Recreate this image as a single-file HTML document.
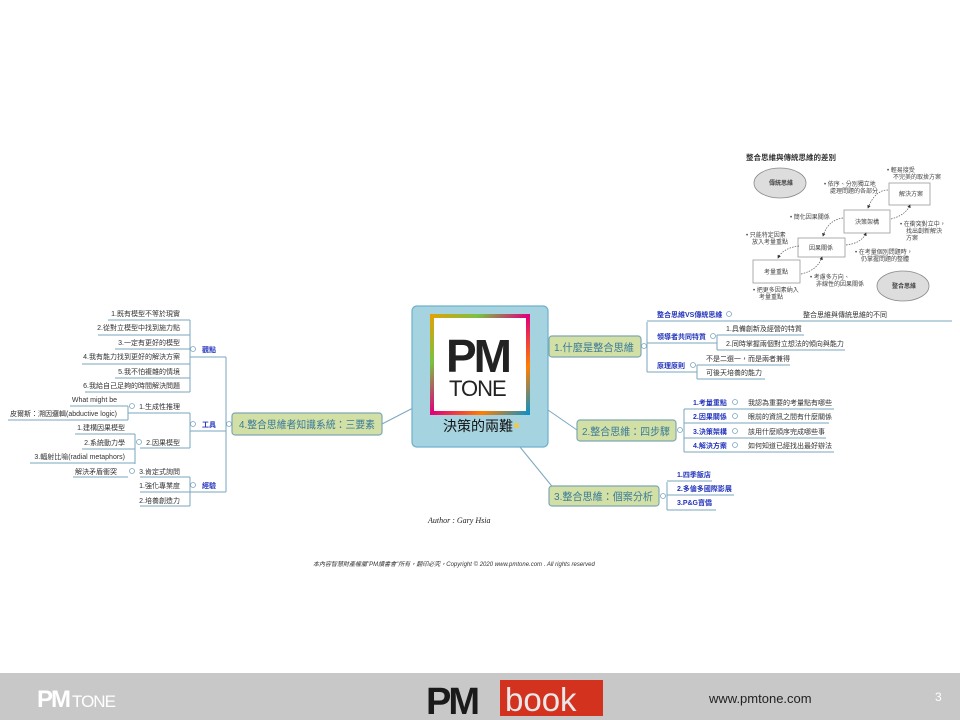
<!DOCTYPE html>
<html><head><meta charset="utf-8"><style>
html,body{margin:0;padding:0;background:#fff;width:960px;height:720px;overflow:hidden}
svg text{font-family:"Liberation Sans","Noto Sans CJK TC",sans-serif}
</style></head><body>
<svg width="960" height="720" viewBox="0 0 960 720" xmlns="http://www.w3.org/2000/svg">
<defs>
<linearGradient id="rb" x1="0" y1="0" x2="1" y2="1">
<stop offset="0" stop-color="#e8a000"/><stop offset="0.25" stop-color="#7ac143"/><stop offset="0.5" stop-color="#e0007a"/><stop offset="0.75" stop-color="#ff7f00"/><stop offset="1" stop-color="#0090d0"/>
</linearGradient>
<marker id="ah" markerWidth="5" markerHeight="5" refX="4" refY="2.5" orient="auto"><path d="M0,0 L5,2.5 L0,5z" fill="#333"/></marker>
</defs>

<g font-size="6" fill="#444">
<text x="746" y="160" font-size="7.5" font-weight="bold" fill="#333">整合思維與傳統思維的差別</text>
<ellipse cx="780" cy="183" rx="26" ry="15" fill="#ddd" stroke="#888" stroke-width="0.8"/>
<text x="769" y="185" font-weight="bold">傳統思維</text>
<ellipse cx="903" cy="286" rx="26" ry="15" fill="#ddd" stroke="#888" stroke-width="0.8"/>
<text x="892" y="288" font-weight="bold">整合思維</text>
<rect x="889" y="183" width="41" height="22" fill="#fff" stroke="#999" stroke-width="0.8"/><text x="899" y="196">解決方案</text>
<rect x="844" y="210" width="46" height="23" fill="#fff" stroke="#999" stroke-width="0.8"/><text x="855" y="224">決策架構</text>
<rect x="798" y="238" width="47" height="19" fill="#fff" stroke="#999" stroke-width="0.8"/><text x="809" y="250">因果關係</text>
<rect x="753" y="260" width="47" height="23" fill="#fff" stroke="#999" stroke-width="0.8"/><text x="764" y="274">考量重點</text>
<g fill="none" stroke="#555" stroke-width="0.7" stroke-dasharray="1.5,1.2">
<path d="M801,274 Q818,270 822,257" marker-end="url(#ah)"/>
<path d="M846,245 Q862,243 866,233" marker-end="url(#ah)"/>
<path d="M891,219 Q906,215 910,205" marker-end="url(#ah)"/>
<path d="M799,246 Q783,248 778,258" marker-end="url(#ah)"/>
<path d="M843,218 Q828,220 823,236" marker-end="url(#ah)"/>
<path d="M888,190 Q875,190 868,208" marker-end="url(#ah)"/>
</g>
<text x="887" y="172">• 輕易接受</text><text x="893" y="179">不完美的取捨方案</text>
<text x="824" y="186">• 依序、分別獨立地</text><text x="830" y="193">處理問題的各部分</text>
<text x="790" y="219">• 簡化因果關係</text>
<text x="746" y="237">• 只能特定因素</text><text x="752" y="244">放入考量重點</text>
<text x="900" y="226">• 在衝突對立中，</text><text x="906" y="233">找出創新解決</text><text x="906" y="240">方案</text>
<text x="855" y="254">• 在考量個別問題時，</text><text x="861" y="261">仍掌握問題的整體</text>
<text x="810" y="279">• 考慮多方向、</text><text x="816" y="286">非線性的因果關係</text>
<text x="753" y="292">• 把更多因素納入</text><text x="759" y="299">考量重點</text>
</g>

<g stroke="#7ba6bf" stroke-width="1" fill="none">
<line x1="413" y1="408" x2="382" y2="424"/>
<line x1="548" y1="410" x2="577" y2="430"/>
<line x1="520" y1="447" x2="555" y2="490"/>
<line x1="226" y1="357" x2="226" y2="492"/>
<line x1="190" y1="357" x2="226" y2="357"/>
<line x1="190" y1="431" x2="226" y2="431"/>
<line x1="190" y1="492" x2="226" y2="492"/>
<line x1="190" y1="320" x2="190" y2="392"/>
<line x1="190" y1="413" x2="190" y2="448"/>
<line x1="190" y1="477" x2="190" y2="506"/>
<line x1="108" y1="320" x2="190" y2="320"/>
<line x1="98" y1="335" x2="190" y2="335"/>
<line x1="115" y1="349" x2="190" y2="349"/>
<line x1="82" y1="364" x2="190" y2="364"/>
<line x1="115" y1="378" x2="190" y2="378"/>
<line x1="85" y1="392" x2="190" y2="392"/>
<line x1="128" y1="413" x2="190" y2="413"/>
<line x1="128" y1="406" x2="128" y2="420"/>
<line x1="70" y1="406" x2="128" y2="406"/>
<line x1="8" y1="420" x2="128" y2="420"/>
<line x1="140" y1="448" x2="190" y2="448"/>
<line x1="135" y1="434" x2="135" y2="464"/>
<line x1="75" y1="434" x2="135" y2="434"/>
<line x1="82" y1="449" x2="135" y2="449"/>
<line x1="30" y1="463" x2="135" y2="463"/>
<line x1="140" y1="477" x2="190" y2="477"/>
<line x1="73" y1="477" x2="128" y2="477"/>
<line x1="140" y1="492" x2="190" y2="492"/>
<line x1="140" y1="506" x2="190" y2="506"/>
<line x1="647" y1="322" x2="647" y2="372"/>
<line x1="647" y1="321" x2="952" y2="321"/>
<line x1="647" y1="343" x2="717" y2="343"/>
<line x1="647" y1="372" x2="697" y2="372"/>
<line x1="717" y1="335" x2="717" y2="350"/>
<line x1="717" y1="335" x2="804" y2="335"/>
<line x1="717" y1="350" x2="845" y2="350"/>
<line x1="697" y1="365" x2="697" y2="379"/>
<line x1="697" y1="365" x2="790" y2="365"/>
<line x1="697" y1="379" x2="765" y2="379"/>
<line x1="684" y1="409" x2="684" y2="452"/>
<line x1="684" y1="409" x2="834" y2="409"/>
<line x1="684" y1="423" x2="829" y2="423"/>
<line x1="684" y1="438" x2="826" y2="438"/>
<line x1="684" y1="452" x2="834" y2="452"/>
<line x1="667" y1="482" x2="667" y2="510"/>
<line x1="667" y1="481" x2="712" y2="481"/>
<line x1="667" y1="495" x2="734" y2="495"/>
<line x1="667" y1="510" x2="716" y2="510"/>
</g>
<g fill="#fff" stroke="#7ba6bf" stroke-width="0.8">
<circle cx="229" cy="424" r="2.5"/><circle cx="193" cy="349" r="2.5"/><circle cx="193" cy="424" r="2.5"/><circle cx="193" cy="485" r="2.5"/>
<circle cx="132" cy="406" r="2.5"/><circle cx="139" cy="442" r="2.5"/><circle cx="132" cy="471" r="2.5"/>
<circle cx="644" cy="346" r="2.5"/><circle cx="729" cy="314" r="2.5"/><circle cx="713" cy="336" r="2.5"/><circle cx="693" cy="365" r="2.5"/>
<circle cx="680" cy="430" r="2.5"/><circle cx="735" cy="402" r="2.5"/><circle cx="735" cy="416" r="2.5"/><circle cx="735" cy="431" r="2.5"/><circle cx="735" cy="445" r="2.5"/>
<circle cx="663" cy="496" r="2.5"/>
</g>

<g stroke="#7ea6b5" stroke-width="1.2" fill="#d2e0a6">
<rect x="232" y="413" width="150" height="22" rx="3"/>
<rect x="549" y="336" width="92" height="21" rx="3"/>
<rect x="577" y="420" width="99" height="21" rx="3"/>
<rect x="549" y="486" width="110" height="20" rx="3"/>
</g>
<g font-size="10.5" fill="#3a7a9a">
<text x="239" y="428" textLength="136" lengthAdjust="spacingAndGlyphs">4.整合思維者知識系統：三要素</text>
<text x="554" y="351" textLength="80" lengthAdjust="spacingAndGlyphs">1.什麼是整合思維</text>
<text x="582" y="435" textLength="88" lengthAdjust="spacingAndGlyphs">2.整合思維：四步驟</text>
<text x="554" y="500" textLength="99" lengthAdjust="spacingAndGlyphs">3.整合思維：個案分析</text>
</g>

<rect x="412" y="306" width="136" height="141" rx="5" fill="#a6d3e0" stroke="#6fb1cb" stroke-width="1.2"/>
<rect x="430" y="314" width="100" height="101" fill="url(#rb)"/>
<rect x="434" y="318" width="92" height="93" fill="#fff"/>
<text x="446" y="372" font-size="46" font-weight="bold" fill="#222" letter-spacing="-3">PM</text>
<text x="449" y="396" font-size="22" fill="#222" letter-spacing="-1">TONE</text>
<text x="443" y="431" font-size="14" fill="#111">決策的兩難</text>
<rect x="514" y="423" width="5" height="5" fill="#e8c860"/>

<g font-size="7" fill="#333" text-anchor="end">
<text x="180" y="316">1.既有模型不等於現實</text>
<text x="180" y="330">2.從對立模型中找到施力點</text>
<text x="180" y="345">3.一定有更好的模型</text>
<text x="180" y="359">4.我有能力找到更好的解決方案</text>
<text x="180" y="374">5.我不怕複雜的情境</text>
<text x="180" y="388">6.我給自己足夠的時間解決問題</text>
<text x="180" y="409">1.生成性推理</text>
<text x="117" y="402">What might be</text>
<text x="117" y="416">皮爾斯：溯因邏輯(abductive logic)</text>
<text x="180" y="445">2.因果模型</text>
<text x="125" y="430">1.建構因果模型</text>
<text x="125" y="445">2.系統動力學</text>
<text x="125" y="459">3.輻射比喻(radial metaphors)</text>
<text x="180" y="474">3.肯定式詢問</text>
<text x="117" y="474">解決矛盾衝突</text>
<text x="180" y="488">1.強化專業度</text>
<text x="180" y="503">2.培養創造力</text>
</g>
<g font-size="7" fill="#2233bb" font-weight="bold">
<text x="202" y="352">觀點</text><text x="202" y="427">工具</text><text x="202" y="488">經驗</text>
<text x="657" y="317">整合思維VS傳統思維</text>
<text x="657" y="339">領導者共同特質</text>
<text x="657" y="368">原理原則</text>
<text x="693" y="405">1.考量重點</text><text x="693" y="419">2.因果關係</text><text x="693" y="434">3.決策架構</text><text x="693" y="448">4.解決方案</text>
<text x="677" y="477">1.四季飯店</text><text x="677" y="491">2.多倫多國際影展</text><text x="677" y="505">3.P&amp;G寶僑</text>
</g>
<g font-size="7" fill="#333">
<text x="803" y="317">整合思維與傳統思維的不同</text>
<text x="726" y="331">1.具備創新及經營的特質</text>
<text x="726" y="346">2.同時掌握兩個對立想法的傾向與能力</text>
<text x="706" y="361">不是二選一，而是兩者兼得</text>
<text x="706" y="375">可後天培養的能力</text>
<text x="748" y="405">我認為重要的考量點有哪些</text>
<text x="748" y="419">眼前的資訊之間有什麼關係</text>
<text x="748" y="434">該用什麼順序完成哪些事</text>
<text x="748" y="448">如何知道已經找出最好辦法</text>
</g>

<text x="428" y="523" font-size="8" font-style="italic" fill="#222" style="font-family:'Liberation Serif',serif">Author : Gary Hsia</text>
<text x="313" y="566" font-size="6" font-style="italic" fill="#333">本內容智慧財產權屬"PM讀書會"所有，翻印必究，Copyright © 2020 www.pmtone.com . All rights reserved</text>

<rect x="0" y="673" width="960" height="47" fill="#c8c8c8"/>
<text x="37" y="707" font-size="24" font-weight="bold" fill="#fff" letter-spacing="-2">PM</text>
<text x="72" y="707" font-size="17" fill="#fff" letter-spacing="-1">TONE</text>
<text x="426" y="714" font-size="38" font-weight="bold" fill="#1a1a1a" letter-spacing="-3">PM</text>
<rect x="500" y="680" width="103" height="36" fill="#d2321e"/>
<text x="505" y="711" font-size="33" fill="#e8e8e8">book</text>
<text x="709" y="703" font-size="13" fill="#222">www.pmtone.com</text>
<text x="935" y="701" font-size="12" fill="#fff">3</text>
</svg>
</body></html>
